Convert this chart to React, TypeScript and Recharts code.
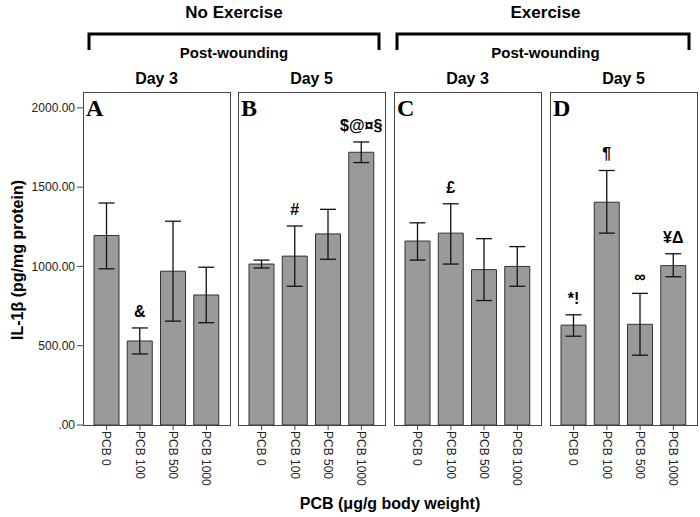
import React from 'react';
import { BarChart, Bar, XAxis, YAxis, ErrorBar, LabelList } from 'recharts';

const categories = ['PCB 0', 'PCB 100', 'PCB 500', 'PCB 1000'];
const yTicks = [0, 500, 1000, 1500, 2000];

const meanA = [1195, 530, 970, 820];
const highA = [1400, 612, 1285, 995];
const lowA = [985, 448, 655, 645];
const notesA = ['', '&', '', ''];

const meanB = [1015, 1065, 1205, 1720];
const highB = [1040, 1255, 1360, 1785];
const lowB = [990, 875, 1045, 1655];
const notesB = ['', '#', '', '$@¤§'];

const meanC = [1160, 1210, 980, 1000];
const highC = [1275, 1395, 1175, 1125];
const lowC = [1040, 1015, 785, 875];
const notesC = ['', '£', '', ''];

const meanD = [630, 1405, 635, 1005];
const highD = [695, 1605, 830, 1080];
const lowD = [560, 1210, 440, 935];
const notesD = ['*!', '¶', '∞', '¥Δ'];

const panelLetters = ['A', 'B', 'C', 'D'];
const dayLabels = ['Day 3', 'Day 5', 'Day 3', 'Day 5'];
const groupLabels = ['No Exercise', 'Exercise'];

const SANS = '"Liberation Sans", Arial, sans-serif';
const SERIF = '"Liberation Serif", "Times New Roman", serif';

const buildRows = (mean: number[], high: number[], low: number[], notes: string[]) =>
  categories.map((name, i) => ({
    name,
    mean: mean[i],
    err: [mean[i] - low[i], high[i] - mean[i]],
    note: notes[i],
  }));

const panelData = [
  buildRows(meanA, highA, lowA, notesA),
  buildRows(meanB, highB, lowB, notesB),
  buildRows(meanC, highC, lowC, notesC),
  buildRows(meanD, highD, lowD, notesD),
];

const PLOT_TOP = 92;
const PLOT_BOTTOM = 425;
const PANEL_W = 147;
const panelLefts = [83, 238, 394, 550];
const Y_AXIS_W = 83;

const XTick = (props: any) => {
  const { x, y, payload } = props;
  return (
    <g transform={`translate(${x},${y})`}>
      <text
        transform="rotate(90)"
        x={0}
        y={0}
        dy="0.35em"
        textAnchor="start"
        fontSize={12}
        fill="#222"
        fontFamily={SANS}
      >
        {payload.value}
      </text>
    </g>
  );
};

const makeLabel = (rows: any[]) => (props: any) => {
  const { x, y, width, height, index, value } = props;
  let r = typeof index === 'number' ? rows[index] : undefined;
  if (!r) r = rows.find((d) => d.note === value);
  if (!r || !r.note) return null;
  const top = Number(y) - (r.err[1] * Number(height)) / r.mean;
  return (
    <text
      x={Number(x) + Number(width) / 2}
      y={top - 11}
      textAnchor="middle"
      fontSize={16}
      fontWeight="bold"
      fill="#000"
      fontFamily={SANS}
    >
      {r.note}
    </text>
  );
};

const Panel = ({ idx }: { idx: number }) => {
  const rows = panelData[idx];
  const first = idx === 0;
  const width = first ? Y_AXIS_W + PANEL_W : PANEL_W;
  const left = first ? 0 : panelLefts[idx];
  return (
    <div style={{ position: 'absolute', left, top: 0 }}>
      <BarChart
        width={width}
        height={517}
        data={rows}
        margin={{ top: PLOT_TOP, right: 0, bottom: 517 - PLOT_BOTTOM - 60, left: 0 }}
        barCategoryGap={0}
      >
        <XAxis
          dataKey="name"
          height={60}
          axisLine={false}
          tickLine={{ stroke: '#444' }}
          tickSize={5}
          tickMargin={1}
          padding={{ left: 7, right: 7 }}
          interval={0}
          tick={<XTick />}
        />
        <YAxis
          hide={!first}
          width={Y_AXIS_W}
          domain={[0, 2100]}
          ticks={yTicks}
          allowDataOverflow
          axisLine={false}
          tickLine={{ stroke: '#444' }}
          tickSize={6}
          tickMargin={2}
          tick={{ fontSize: 12, fill: '#222', fontFamily: SANS }}
          tickFormatter={(v: number) => (v === 0 ? '.00' : v.toFixed(2))}
        />
        <Bar
          dataKey="mean"
          fill="#9a9a9a"
          stroke="#333"
          strokeWidth={1}
          barSize={25}
          isAnimationActive={false}
        >
          <ErrorBar dataKey="err" width={8} stroke="#111" strokeWidth={1.3} direction="y" />
          <LabelList dataKey="note" content={makeLabel(rows)} />
        </Bar>
      </BarChart>
    </div>
  );
};

export default function App() {
  const groupCenters = [
    (panelLefts[0] + panelLefts[1] + PANEL_W) / 2,
    (panelLefts[2] + panelLefts[3] + PANEL_W) / 2,
  ];
  const brackets = [
    [89, 379],
    [397, 689],
  ];
  return (
    <div style={{ position: 'absolute', left: 0, top: 0, width: 700, height: 517, background: '#fff' }}>
      {[0, 1, 2, 3].map((i) => (
        <Panel key={i} idx={i} />
      ))}
      {panelLefts.map((l, i) => (
        <div
          key={'f' + i}
          style={{
            position: 'absolute',
            left: l,
            top: PLOT_TOP,
            width: PANEL_W + 1,
            height: PLOT_BOTTOM - PLOT_TOP + 1,
            border: '1px solid #444',
            boxSizing: 'border-box',
            pointerEvents: 'none',
          }}
        />
      ))}
      <svg
        width={700}
        height={517}
        style={{ position: 'absolute', left: 0, top: 0, pointerEvents: 'none' }}
      >
        {groupLabels.map((g, i) => (
          <text
            key={g}
            x={groupCenters[i]}
            y={18}
            textAnchor="middle"
            fontSize={17}
            fontWeight="bold"
            fontFamily={SANS}
            fill="#000"
          >
            {g}
          </text>
        ))}
        {brackets.map(([a, b], i) => (
          <path
            key={'b' + i}
            d={`M${a},50 V34 H${b} V50`}
            fill="none"
            stroke="#000"
            strokeWidth={3}
          />
        ))}
        {groupCenters.map((c, i) => (
          <text
            key={'pw' + i}
            x={c}
            y={58}
            textAnchor="middle"
            fontSize={15}
            fontWeight="bold"
            fontFamily={SANS}
            fill="#000"
          >
            Post-wounding
          </text>
        ))}
        {panelLefts.map((l, i) => (
          <text
            key={'d' + i}
            x={l + PANEL_W / 2}
            y={84}
            textAnchor="middle"
            fontSize={16}
            fontWeight="bold"
            fontFamily={SANS}
            fill="#000"
          >
            {dayLabels[i]}
          </text>
        ))}
        {panelLefts.map((l, i) => (
          <text
            key={'l' + i}
            x={l + 3}
            y={116}
            fontSize={24}
            fontWeight="bold"
            fontFamily={SERIF}
            fill="#000"
          >
            {panelLetters[i]}
          </text>
        ))}
        <text
          transform="translate(17,260) rotate(-90)"
          textAnchor="middle"
          dominantBaseline="central"
          fontSize={16}
          fontWeight="bold"
          fontFamily={SANS}
          fill="#000"
        >
          IL-1β (pg/mg protein)
        </text>
        <text
          x={390}
          y={509}
          textAnchor="middle"
          fontSize={16}
          fontWeight="bold"
          fontFamily={SANS}
          fill="#000"
        >
          PCB (μg/g body weight)
        </text>
      </svg>
    </div>
  );
}
